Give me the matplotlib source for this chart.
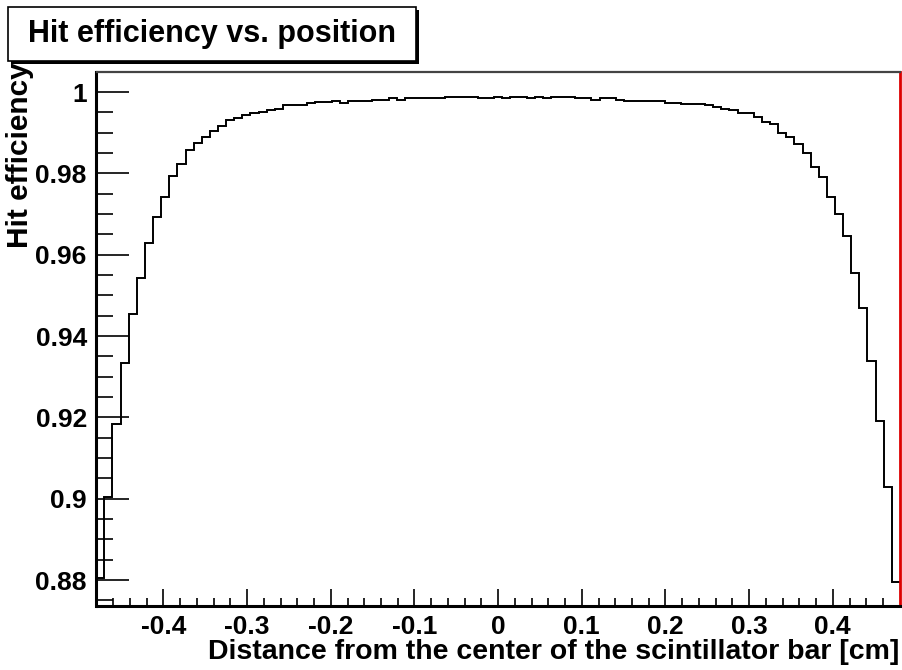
import matplotlib
matplotlib.use('Agg')
import matplotlib.pyplot as plt
import numpy as np
from matplotlib.patches import Rectangle

# Histogram: 99 visible bins of equal width between -0.4803 and 0.4803 cm
BIN_LO = -0.4803
BIN_HI = 0.4803
EFFICIENCY = [
    0.8806, 0.9005, 0.9184, 0.9334, 0.9454, 0.9543, 0.9629, 0.9692, 0.9742, 0.9793,
    0.9822, 0.9857, 0.9874, 0.9889, 0.9903, 0.9917, 0.9931, 0.9935, 0.9944, 0.9948,
    0.9950, 0.9955, 0.9959, 0.9967, 0.9967, 0.9967, 0.9972, 0.9975, 0.9975, 0.9977,
    0.9973, 0.9977, 0.9977, 0.9977, 0.9981, 0.9981, 0.9985, 0.9981, 0.9985, 0.9985,
    0.9985, 0.9985, 0.9985, 0.9989, 0.9989, 0.9989, 0.9989, 0.9985, 0.9985, 0.9989,
    0.9985, 0.9989, 0.9989, 0.9985, 0.9989, 0.9985, 0.9989, 0.9989, 0.9989, 0.9985,
    0.9985, 0.9981, 0.9985, 0.9985, 0.9981, 0.9977, 0.9977, 0.9977, 0.9977, 0.9977,
    0.9973, 0.9973, 0.9971, 0.9971, 0.9971, 0.9967, 0.9963, 0.9959, 0.9955, 0.9949,
    0.9949, 0.9938, 0.9927, 0.9921, 0.9900, 0.9889, 0.9872, 0.9851, 0.9816, 0.9792,
    0.9741, 0.9700, 0.9646, 0.9554, 0.9468, 0.9339, 0.9191, 0.9028, 0.8795,
]

XTICKS = [-0.4, -0.3, -0.2, -0.1, 0.0, 0.1, 0.2, 0.3, 0.4]
XTICK_LABELS = ["-0.4", "-0.3", "-0.2", "-0.1", "0", "0.1", "0.2", "0.3", "0.4"]
YTICKS = [0.88, 0.90, 0.92, 0.94, 0.96, 0.98, 1.00]
YTICK_LABELS = ["0.88", "0.9", "0.92", "0.94", "0.96", "0.98", "1"]

TITLE = "Hit efficiency vs. position"
XLABEL = "Distance from the center of the scintillator bar [cm]"
YLABEL = "Hit efficiency"

W, H = 903, 670
plt.rcParams['font.family'] = ['Liberation Sans', 'DejaVu Sans']
plt.rcParams['font.weight'] = 'bold'

fig = plt.figure(figsize=(W / 100, H / 100), dpi=100)
fig.patch.set_facecolor('white')

# axes frame in pixel coords (ROOT-like pad margins)
left, right, top, bottom = 96.5, 899.7, 71.7, 605.7
ax = fig.add_axes([left / W, 1 - bottom / H, (right - left) / W, (bottom - top) / H])

edges = np.linspace(BIN_LO, BIN_HI, len(EFFICIENCY) + 1)
ax.stairs(EFFICIENCY, edges, baseline=None, color='black', lw=1.4)

ax.set_xlim(-0.48, 0.48)
ax.set_ylim(0.8737, 1.005)

ax.set_xticks(XTICKS)
ax.set_xticklabels(XTICK_LABELS)
ax.set_xticks(np.arange(-0.46, 0.47, 0.02), minor=True)
ax.set_yticks(YTICKS)
ax.set_yticklabels(YTICK_LABELS)
ax.set_yticks(np.arange(0.875, 1.004, 0.005), minor=True)

ax.tick_params(axis='both', which='both', direction='in', width=1.2, labelsize=19,
               top=False, right=False)
ax.tick_params(axis='x', which='major', length=12, pad=7)
ax.tick_params(axis='x', which='minor', length=6)
ax.tick_params(axis='y', which='major', length=24, pad=7)
ax.tick_params(axis='y', which='minor', length=12)

for side in ['left', 'bottom']:
    ax.spines[side].set_linewidth(2.2)
    ax.spines[side].set_color('black')
ax.spines['top'].set_linewidth(1.6)
ax.spines['top'].set_color('#444444')
ax.spines['right'].set_linewidth(2.0)
ax.spines['right'].set_color('#dd0000')

# axis titles, ROOT style: aligned to the far end of the axis
fig.text(right / W, 1 - 652 / H, XLABEL, ha='right', va='center', fontsize=20.5,
         fontweight='bold')
fig.text(20 / W, 1 - 62 / H, YLABEL, ha='center', va='top', rotation=90,
         fontsize=21.5, fontweight='bold')

# title box with shadow
bx0, by0, bx1, by1 = 8, 7.5, 416.5, 61
fig.add_artist(Rectangle(((bx0 + 3) / W, 1 - (by1 + 2.5) / H), (bx1 - bx0) / W,
                         (by1 - by0) / H, transform=fig.transFigure,
                         facecolor='black', edgecolor='black', lw=0))
fig.add_artist(Rectangle((bx0 / W, 1 - by1 / H), (bx1 - bx0) / W, (by1 - by0) / H,
                         transform=fig.transFigure, facecolor='white',
                         edgecolor='black', lw=1.2))
fig.text((bx0 + bx1) / 2 / W, 1 - (by0 + by1) / 2 / H, TITLE, ha='center',
         va='center', fontsize=22, fontweight='bold')

fig.savefig('out.png', dpi=100)
